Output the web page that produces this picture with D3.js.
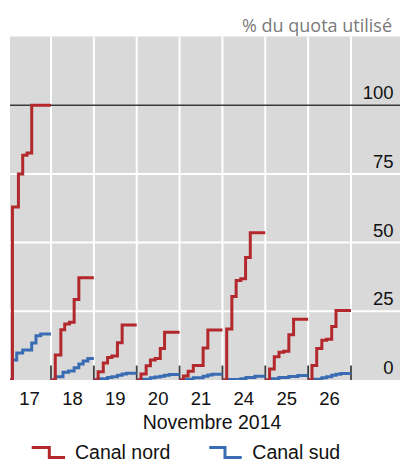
<!DOCTYPE html>
<html>
<head>
<meta charset="utf-8">
<script src="https://cdn.jsdelivr.net/npm/d3@7"></script>
<style>
  html, body { margin: 0; padding: 0; background: #fff; }
  svg { display: block; }
</style>
</head>
<body>
<svg id="chart" width="403" height="464"></svg>
<script>
// ---- data ----
const dayLabels = ["17", "18", "19", "20", "21", "24", "25", "26"];
const yTicks = [0, 25, 50, 75, 100];
const xTitle = "Novembre 2014";
const yTitle = "% du quota utilisé";
const seriesNames = ["Canal nord", "Canal sud"];
// step points per day: [fraction of the day, % of quota]
const canalNord = [
  [[0.10, 63.0], [0.24, 75.0], [0.34, 81.8], [0.44, 82.6], [0.55, 100]],
  [[0.10, 9.1], [0.23, 18.3], [0.32, 20.4], [0.43, 21.0], [0.54, 29.3], [0.65, 37.2]],
  [[0.10, 3.0], [0.22, 6.2], [0.32, 8.2], [0.42, 8.7], [0.55, 13.6], [0.66, 20.0]],
  [[0.10, 2.2], [0.22, 5.2], [0.32, 7.3], [0.43, 7.8], [0.55, 11.5], [0.65, 17.4]],
  [[0.09, 1.5], [0.20, 3.2], [0.32, 5.3], [0.55, 11.6], [0.66, 18.2]],
  [[0.10, 18.6], [0.22, 30.4], [0.32, 36.2], [0.43, 36.8], [0.54, 44.6], [0.65, 53.6]],
  [[0.10, 4.0], [0.21, 8.5], [0.32, 10.1], [0.43, 10.5], [0.55, 16.5], [0.66, 22.1]],
  [[0.09, 5.3], [0.20, 11.5], [0.32, 14.5], [0.43, 14.8], [0.55, 19.5], [0.65, 25.3]]
];
const canalSud = [
  [[0.10, 7.3], [0.20, 9.8], [0.34, 10.9], [0.55, 13.5], [0.65, 16.1], [0.76, 16.7]],
  [[0.10, 1.2], [0.28, 2.8], [0.41, 3.3], [0.54, 4.5], [0.65, 5.8], [0.75, 6.9], [0.86, 7.8]],
  [[0.10, 0.5], [0.32, 0.9], [0.42, 1.2], [0.55, 1.7], [0.66, 2.2], [0.76, 2.5]],
  [[0.10, 0.3], [0.32, 0.8], [0.43, 1.1], [0.55, 1.4], [0.65, 1.7], [0.76, 2.0]],
  [[0.09, 0.3], [0.32, 0.8], [0.55, 1.4], [0.66, 1.8], [0.76, 2.1]],
  [[0.10, 0.2], [0.43, 0.5], [0.55, 0.9], [0.76, 1.4]],
  [[0.10, 0.5], [0.32, 0.9], [0.55, 1.3], [0.76, 1.6]],
  [[0.10, 0.3], [0.32, 0.8], [0.43, 1.2], [0.55, 1.7], [0.65, 2.1], [0.76, 2.4]]
];
const colors = { nord: "#b2282c", sud: "#3a6cb4" };

// ---- layout ----
const svg = d3.select("#chart");
const plot = { left: 10, right: 400, top: 36.5, bottom: 380 };
const x = d3.scaleLinear().domain([0, dayLabels.length]).range([8.14, 351]);
const y = d3.scaleLinear().domain([0, 125]).range([plot.bottom, plot.top]);

svg.append("defs").append("clipPath").attr("id", "clip")
  .append("rect")
  .attr("x", plot.left).attr("y", plot.top)
  .attr("width", plot.right - plot.left).attr("height", plot.bottom - plot.top);

svg.append("rect")
  .attr("x", plot.left).attr("y", plot.top)
  .attr("width", plot.right - plot.left).attr("height", plot.bottom - plot.top)
  .attr("fill", "#d9d9d9");

const boundaries = d3.range(1, dayLabels.length + 1);

// vertical gridlines
svg.append("g").selectAll("line").data(boundaries).join("line")
  .attr("x1", d => x(d)).attr("x2", d => x(d))
  .attr("y1", plot.top).attr("y2", plot.bottom)
  .attr("stroke", "#fff").attr("stroke-width", 2);

// horizontal gridlines
svg.append("g").selectAll("line").data(yTicks.filter(v => v > 0)).join("line")
  .attr("x1", plot.left).attr("x2", plot.right)
  .attr("y1", d => y(d)).attr("y2", d => y(d))
  .attr("stroke", d => d === 100 ? "#3a3a3a" : "#fff")
  .attr("stroke-width", d => d === 100 ? 1.6 : 2);

// y labels
svg.append("g").selectAll("text").data(yTicks).join("text")
  .attr("x", 393.5).attr("y", d => y(d) - 6)
  .attr("text-anchor", "end")
  .attr("font-family", "Liberation Sans, Arial, sans-serif")
  .attr("font-size", 18.5).attr("fill", "#111")
  .text(d => d);

// day ticks
svg.append("g").selectAll("line").data(boundaries).join("line")
  .attr("x1", d => x(d)).attr("x2", d => x(d))
  .attr("y1", plot.bottom - 14.5).attr("y2", plot.bottom)
  .attr("stroke", "#404040").attr("stroke-width", 1.8);

// series
const line = d3.line()
  .x(d => x(d[0]))
  .y(d => y(d[1]))
  .curve(d3.curveStepAfter);

function dayPoints(steps, i) {
  const pts = [[i, 0]].concat(steps.map(s => [i + s[0], s[1]]));
  pts.push([i + 1, steps[steps.length - 1][1]]);
  return pts;
}

const g = svg.append("g").attr("clip-path", "url(#clip)");
g.selectAll("path.sud").data(canalSud).join("path")
  .attr("class", "sud")
  .attr("d", (s, i) => line(dayPoints(s, i)))
  .attr("fill", "none").attr("stroke", colors.sud)
  .attr("stroke-width", 3).attr("stroke-linejoin", "miter");
g.selectAll("path.nord").data(canalNord).join("path")
  .attr("class", "nord")
  .attr("d", (s, i) => line(dayPoints(s, i)))
  .attr("fill", "none").attr("stroke", colors.nord)
  .attr("stroke-width", 3).attr("stroke-linejoin", "miter");

// x labels
svg.append("g").selectAll("text").data(dayLabels).join("text")
  .attr("x", (d, i) => x(i + 0.5)).attr("y", 405)
  .attr("text-anchor", "middle")
  .attr("font-family", "Liberation Sans, Arial, sans-serif")
  .attr("font-size", 18.5).attr("fill", "#111")
  .text(d => d);

svg.append("text")
  .attr("x", 212).attr("y", 428.5)
  .attr("text-anchor", "middle")
  .attr("font-family", "Liberation Sans, Arial, sans-serif")
  .attr("font-size", 19.5).attr("fill", "#111")
  .text(xTitle);

// title
svg.append("text")
  .attr("x", 392).attr("y", 31.5)
  .attr("text-anchor", "end")
  .attr("font-family", "Open Sans, sans-serif")
  .attr("font-size", 18).attr("fill", "#7a7a7a")
  .text(yTitle);

// legend
const legendItems = [
  { name: seriesNames[0], color: colors.nord, x0: 31.7, x1: 49.3, x2: 65, tx: 75 },
  { name: seriesNames[1], color: colors.sud, x0: 209.3, x1: 225, x2: 241.7, tx: 252.3 }
];
const lg = svg.append("g");
lg.selectAll("path").data(legendItems).join("path")
  .attr("d", d => `M${d.x0},447.5H${d.x1}V457.5H${d.x2}`)
  .attr("fill", "none").attr("stroke", d => d.color).attr("stroke-width", 3);
lg.selectAll("text").data(legendItems).join("text")
  .attr("x", d => d.tx).attr("y", 459)
  .attr("font-family", "Liberation Sans, Arial, sans-serif")
  .attr("font-size", 19.5).attr("fill", "#111")
  .text(d => d.name);
</script>
</body>
</html>
